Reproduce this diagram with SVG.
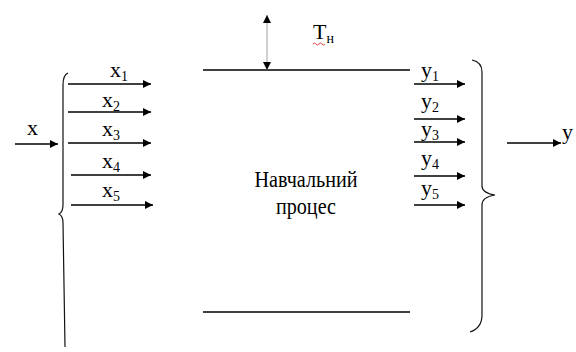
<svg xmlns="http://www.w3.org/2000/svg" width="576" height="352" viewBox="0 0 576 352">
<defs>
<marker id="ah" viewBox="0 0 10 10" refX="10" refY="5" markerWidth="10" markerHeight="8" markerUnits="userSpaceOnUse" orient="auto">
<path d="M0,0 L10,5 L0,10 z" fill="#000"/>
</marker>
<marker id="ahs" viewBox="0 0 10 10" refX="10" refY="5" markerWidth="10" markerHeight="8" markerUnits="userSpaceOnUse" orient="auto-start-reverse">
<path d="M0,0 L10,5 L0,10 z" fill="#000"/>
</marker>
</defs>
<style>
.ln{stroke:#000;stroke-width:1.3;fill:none}
.ar{stroke:#000;stroke-width:1.3;fill:none;marker-end:url(#ah)}
.br{stroke:#111;stroke-width:1.2;fill:none}
.lb{font-size:22px}
.sb{font-size:14px}
.ct{font-size:21px}
</style>
<rect width="576" height="352" fill="#fff"/>
<g font-family="'Liberation Serif', 'Times New Roman', serif" fill="#000">
<g id="process">
<line class="ln" x1="203" y1="70" x2="410" y2="70"/>
<line class="ln" x1="203" y1="312" x2="410" y2="312"/>
<text class="ct" x="306" y="187" text-anchor="middle" transform="translate(306 187) scale(0.96 1.08) translate(-306 -187)">Навчальний</text>
<text class="ct" x="306" y="214" text-anchor="middle" transform="translate(306 214) scale(0.96 1.08) translate(-306 -214)">процес</text>
</g>
<g id="disturbance">
<line x1="267" y1="15" x2="267" y2="70" stroke="#888" stroke-width="0.8" marker-start="url(#ahs)" marker-end="url(#ah)"/>
<text class="lb" x="313" y="39" font-size="20">Т<tspan class="sb" dy="4" font-size="12">н</tspan></text>
<path d="M313,44 q1.5,-2 3,0 t3,0 t3,0 t3,0" stroke="#d33" stroke-width="0.9" fill="none"/>
</g>
<g id="inputs">
<path class="br" d="M68,73 Q63,75 63,85 L63,205 Q63,212 59,214 Q63,216 63,223 L65,347"/>
<text class="lb" x="27" y="135" font-size="21">x</text>
<text class="lb" x="110" y="77">x<tspan class="sb" dy="4">1</tspan></text>
<text class="lb" x="102" y="107">x<tspan class="sb" dy="4">2</tspan></text>
<text class="lb" x="102" y="136">x<tspan class="sb" dy="4">3</tspan></text>
<text class="lb" x="102" y="168">x<tspan class="sb" dy="4">4</tspan></text>
<text class="lb" x="102" y="197">x<tspan class="sb" dy="4">5</tspan></text>
</g>
<g id="outputs">
<path class="br" d="M472,60 Q482,62 482,72 L482,186 Q482,193 495,195 Q482,197 482,205 L482,315 Q482,328 470,332"/>
<text class="lb" x="421" y="77">y<tspan class="sb" dy="4">1</tspan></text>
<text class="lb" x="421" y="108">y<tspan class="sb" dy="4">2</tspan></text>
<text class="lb" x="421" y="136">y<tspan class="sb" dy="4">3</tspan></text>
<text class="lb" x="421" y="165">y<tspan class="sb" dy="4">4</tspan></text>
<text class="lb" x="421" y="195">y<tspan class="sb" dy="4">5</tspan></text>
<text class="lb" x="562" y="139" font-size="21">y</text>
</g>
</g>
<g id="connectors">
<line class="ar" x1="15" y1="144" x2="58" y2="144"/>
<line class="ar" x1="68" y1="84" x2="151" y2="84"/>
<line class="ar" x1="68" y1="112" x2="151" y2="112"/>
<line class="ar" x1="68" y1="143" x2="151" y2="143"/>
<line class="ar" x1="71" y1="175" x2="151" y2="175"/>
<line class="ar" x1="71" y1="205" x2="153" y2="205"/>
<line class="ar" x1="414" y1="84" x2="465" y2="84"/>
<line class="ar" x1="414" y1="119" x2="465" y2="119"/>
<line class="ar" x1="414" y1="142" x2="465" y2="142"/>
<line class="ar" x1="414" y1="176" x2="465" y2="176"/>
<line class="ar" x1="414" y1="205" x2="465" y2="205"/>
<line class="ar" x1="507" y1="143" x2="561" y2="143"/>
</g>
</svg>
